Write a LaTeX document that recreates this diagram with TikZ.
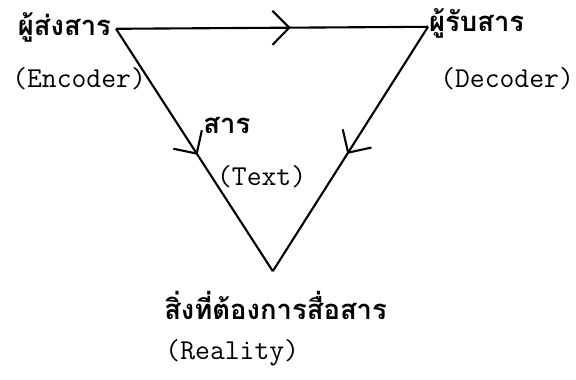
\documentclass[tikz,border=0pt]{standalone}
\usepackage{fontspec}
\newfontfamily\thaifont[Script=Thai]{Loma}
\usetikzlibrary{arrows.meta,positioning,calc,decorations.markings}

\tikzset{
  thailabel/.style={font=\thaifont\bfseries\fontsize{19.5}{22}\selectfont, inner sep=0pt},
  englabel/.style={font=\ttfamily\fontsize{20.5}{22}\selectfont, inner sep=0pt},
  midarrow/.style={decoration={markings,
      mark=at position #1 with {\arrow{Straight Barb[length=4.2mm,width=8.5mm,line width=1.5pt]}}},
    postaction=decorate},
  edge/.style={line width=1.5pt}
}

\begin{document}
\begin{tikzpicture}
  \useasboundingbox (0,0) rectangle (14.4,9.5);
  % corners of the triangle
  \coordinate (sender) at (2.9,8.78);
  \coordinate (receiver) at (10.7,8.83);
  \coordinate (reality) at (6.82,2.72);

  \node[thailabel, anchor=base east] (sendth) at (2.78,8.62) {ผู้ส่งสาร};
  \node[englabel, anchor=base west] (sendeng) at (0.3,7.3) {(Encoder)};
  \node[thailabel, anchor=base west] (recvth) at (10.72,8.72) {ผู้รับสาร};
  \node[englabel, anchor=base west] (recveng) at (11.0,7.3) {(Decoder)};
  \node[thailabel, anchor=base west] (textth) at (5.08,6.15) {สาร};
  \node[englabel, anchor=base west] (texteng) at (5.42,4.85) {(Text)};
  \node[thailabel, anchor=base west] (realth) at (4.1,1.5) {สิ่งที่ต้องการสื่อสาร};
  \node[englabel, anchor=base west] (realeng) at (4.13,0.5) {(Reality)};

  \draw[edge, midarrow=0.56] (sender) -- (receiver);
  \draw[edge, midarrow=0.52] (sender) -- (reality);
  \draw[edge, midarrow=0.52] (receiver) -- (reality);
\end{tikzpicture}
\end{document}
